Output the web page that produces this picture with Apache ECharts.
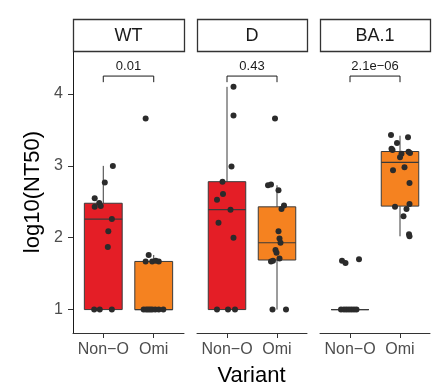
<!DOCTYPE html>
<html><head><meta charset="utf-8">
<script src="https://cdn.jsdelivr.net/npm/echarts@6/dist/echarts.min.js"></script>
<style>html,body{margin:0;padding:0;background:#fff}#c{width:438px;height:389px}</style>
</head><body><div id="c"></div>
<script>
// ---------- data ----------
const panels = ['WT', 'D', 'BA.1'];
const groups = ['Non−O', 'Omi'];
const pValues = ['0.01', '0.43', '2.1e−06'];
const yTicks = [1, 2, 3, 4];

// box stats: [lower whisker, q1, median, q3, upper whisker] for Non-O and Omi
const boxWT  = [[1.00, 1.00, 2.26, 2.48, 3.00], [1.00, 1.00, 1.00, 1.67, 1.76]];
const boxD   = [[1.00, 1.00, 2.39, 2.78, 4.10], [1.00, 1.69, 1.93, 2.43, 2.73]];
const boxBA1 = [[1.00, 1.00, 1.00, 1.00, 1.00], [2.02, 2.44, 3.05, 3.20, 3.42]];

// points: log10 values and horizontal jitter offsets
const wtNonO      = [3.00, 2.77, 2.55, 2.485, 2.44, 2.43, 2.26, 2.09, 1.87, 1.00, 1.00, 1.00];
const wtNonOJit   = [0.19, 0.03, -0.17, -0.08, -0.05, -0.17, 0.17, 0.10, 0.09, -0.18, -0.07, 0.17];
const wtOmi       = [3.66, 1.76, 1.67, 1.67, 1.68, 1.67, 1.00, 1.00, 1.00, 1.00, 1.00, 1.00, 1.00, 1.00];
const wtOmiJit    = [-0.16, -0.10, -0.16, -0.03, 0.04, 0.10, -0.20, -0.15, -0.11, -0.07, -0.03, 0.03, 0.10, 0.19];
const dNonO       = [4.10, 3.70, 2.99, 2.78, 2.61, 2.53, 2.39, 2.21, 2.00, 1.00, 1.00, 1.00];
const dNonOJit    = [0.13, 0.13, 0.09, -0.09, -0.08, -0.20, 0.07, -0.17, 0.13, -0.20, 0.02, 0.16];
const dOmi        = [3.66, 2.73, 2.74, 2.66, 2.45, 2.40, 2.09, 1.99, 1.93, 1.83, 1.79, 1.71, 1.67, 1.68, 1.00, 1.00];
const dOmiJit     = [-0.04, -0.18, -0.12, 0.03, 0.14, 0.09, 0.03, 0.05, 0.07, -0.03, -0.01, 0.05, -0.12, -0.08, -0.09, 0.18];
const baNonO      = [1.68, 1.65, 1.70, 1.00, 1.00, 1.00, 1.00, 1.00, 1.00, 1.00];
const baNonOJit   = [-0.16, -0.09, 0.18, -0.18, -0.12, -0.07, -0.02, 0.03, 0.08, 0.13];
const baOmi       = [3.43, 3.40, 3.32, 3.24, 3.22, 3.195, 3.18, 3.17, 3.12, 2.98, 2.94, 2.76, 2.43, 2.47, 2.40, 2.30, 2.05, 2.02];
const baOmiJit    = [-0.18, 0.16, -0.06, -0.17, -0.15, 0.17, 0.20, 0.03, 0.00, 0.09, -0.14, 0.19, -0.10, 0.19, 0.13, 0.07, 0.18, 0.19];

// ---------- layout / style ----------
const FONT = "'Liberation Sans', Arial, Helvetica, sans-serif";
const groupColors = ['#E41E26', '#F58220'];
const GRIDS = [{left: 73, width: 111}, {left: 197, width: 110}, {left: 320, width: 110}];
const TOP = 52, HEIGHT = 281;
const Y_MIN = 0.674, Y_MAX = 4.585;
const BRACKET_Y = 4.25, BRACKET_TICK = 4.165;

const boxes = [boxWT, boxD, boxBA1];
const pts = [[[wtNonO, wtNonOJit], [wtOmi, wtOmiJit]],
             [[dNonO, dNonOJit], [dOmi, dOmiJit]],
             [[baNonO, baNonOJit], [baOmi, baOmiJit]]];

function renderBox(params, api) {
  const x = api.value(0), lo = api.value(1), q1 = api.value(2), med = api.value(3), q3 = api.value(4), hi = api.value(5);
  const gi = api.value(6);
  const halfW = api.size([0.75, 0])[0] / 2;
  const pLo = api.coord([x, lo]), pQ1 = api.coord([x, q1]), pMed = api.coord([x, med]),
        pQ3 = api.coord([x, q3]), pHi = api.coord([x, hi]);
  const cx = pLo[0];
  const stroke = '#3a3a3a';
  return {type: 'group', children: [
    {type: 'line', shape: {x1: cx, y1: pQ3[1], x2: cx, y2: pHi[1]}, style: {stroke, lineWidth: 1}},
    {type: 'line', shape: {x1: cx, y1: pLo[1], x2: cx, y2: pQ1[1]}, style: {stroke, lineWidth: 1}},
    {type: 'rect', shape: {x: cx - halfW, y: pQ3[1], width: 2 * halfW, height: pQ1[1] - pQ3[1]},
      style: {fill: groupColors[gi], stroke, lineWidth: 1}},
    {type: 'line', shape: {x1: cx - halfW, y1: pMed[1], x2: cx + halfW, y2: pMed[1]}, style: {stroke, lineWidth: 1.2}}
  ]};
}

function makeBracket(p) {
  return function (params, api) {
    const a = api.coord([1, BRACKET_TICK]), b = api.coord([1, BRACKET_Y]),
          c = api.coord([2, BRACKET_Y]), d = api.coord([2, BRACKET_TICK]);
    return {type: 'group', children: [
      {type: 'polyline', shape: {points: [a, b, c, d]}, style: {stroke: '#1a1a1a', lineWidth: 1, fill: null}},
      {type: 'text', x: (b[0] + c[0]) / 2, y: b[1] - 3,
        style: {text: pValues[p], textAlign: 'center', textVerticalAlign: 'bottom', fill: '#1a1a1a', font: '13px ' + FONT}}
    ]};
  };
}

const grid = [], xAxis = [], yAxis = [], series = [], graphic = [];
panels.forEach((name, p) => {
  grid.push({left: GRIDS[p].left, width: GRIDS[p].width, top: TOP, height: HEIGHT, containLabel: false});
  xAxis.push({
    type: 'value', gridIndex: p, min: 0.4, max: 2.6,
    splitLine: {show: false},
    axisLine: {show: true, lineStyle: {color: '#333', width: 1}},
    axisTick: {show: true, customValues: [1, 2], length: 5, lineStyle: {color: '#333'}},
    axisLabel: {show: true, customValues: [1, 2], formatter: v => groups[Math.round(v) - 1] || '',
      color: '#4d4d4d', fontSize: 16, fontFamily: FONT, margin: 9}
  });
  yAxis.push({
    type: 'value', gridIndex: p, min: Y_MIN, max: Y_MAX,
    splitLine: {show: false},
    axisLine: {show: p === 0, lineStyle: {color: '#1a1a1a', width: 1}},
    axisTick: {show: p === 0, customValues: yTicks, length: 5, lineStyle: {color: '#333'}},
    axisLabel: {show: p === 0, customValues: yTicks, color: '#4d4d4d', fontSize: 16, fontFamily: FONT, margin: 10}
  });
  series.push({
    type: 'custom', xAxisIndex: p, yAxisIndex: p, renderItem: renderBox, z: 2,
    data: boxes[p].map((s, g) => [g + 1, s[0], s[1], s[2], s[3], s[4], g])
  });
  const scat = [];
  pts[p].forEach((gr, g) => gr[0].forEach((v, i) => scat.push([g + 1 + gr[1][i], v])));
  series.push({
    type: 'scatter', xAxisIndex: p, yAxisIndex: p, z: 3, symbolSize: 6,
    itemStyle: {color: '#2b2b2b', opacity: 1}, data: scat, silent: true
  });
  series.push({
    type: 'custom', xAxisIndex: p, yAxisIndex: p, renderItem: makeBracket(p), z: 4, data: [[1.5, BRACKET_Y]]
  });
  graphic.push({type: 'rect', shape: {x: GRIDS[p].left + 0.5, y: 19.5, width: GRIDS[p].width, height: 32},
    style: {fill: '#fff', stroke: '#333', lineWidth: 1.3}});
  graphic.push({type: 'text', x: GRIDS[p].left + GRIDS[p].width / 2, y: 36,
    style: {text: name, textAlign: 'center', textVerticalAlign: 'middle', font: '18px ' + FONT, fill: '#1a1a1a'}});
});
graphic.push({type: 'text', x: 33, y: 192, rotation: Math.PI / 2,
  style: {text: 'log10(NT50)', textAlign: 'center', textVerticalAlign: 'middle', font: '22px ' + FONT, fill: '#000'}});
graphic.push({type: 'text', x: 251.5, y: 376,
  style: {text: 'Variant', textAlign: 'center', textVerticalAlign: 'middle', font: '22px ' + FONT, fill: '#000'}});

const chart = echarts.init(document.getElementById('c'), null, {renderer: 'canvas'});
chart.setOption({animation: false, backgroundColor: '#fff', grid, xAxis, yAxis, series, graphic});
</script></body></html>
